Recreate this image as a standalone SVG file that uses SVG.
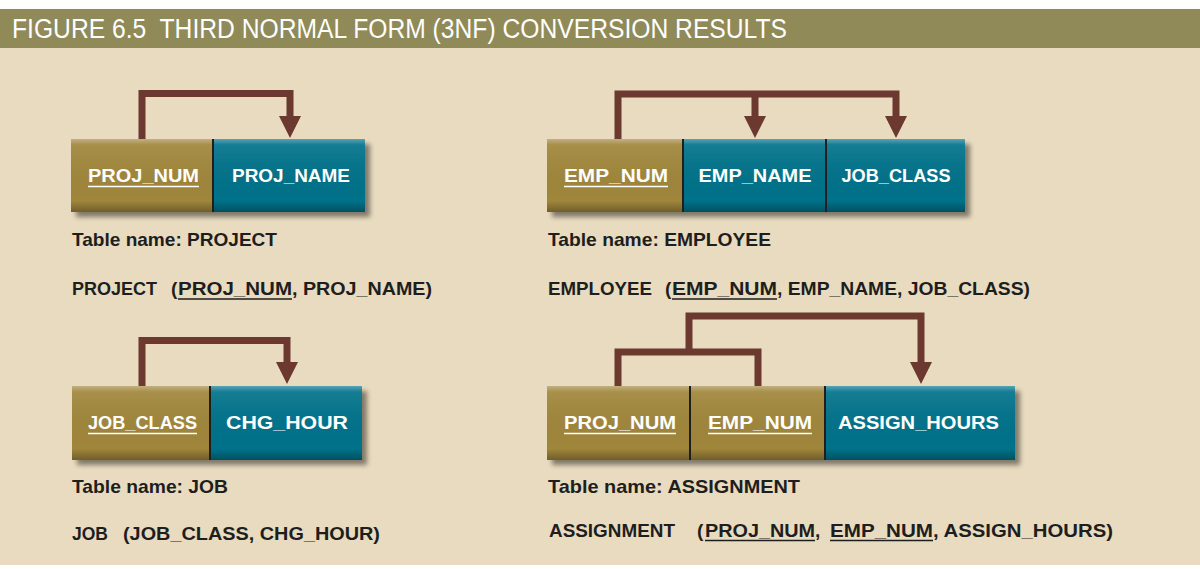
<svg xmlns="http://www.w3.org/2000/svg" width="1200" height="570" viewBox="0 0 1200 570">
<defs>
<style>
.hdr{font-family:"Liberation Sans",Arial,sans-serif;font-size:27px;fill:#ffffff;white-space:pre}
.cell{font-family:"Liberation Sans",Arial,sans-serif;font-size:18.5px;font-weight:bold;fill:#ffffff;text-anchor:middle}
.lbl{font-family:"Liberation Sans",Arial,sans-serif;font-size:19px;font-weight:bold;fill:#1e1e1e}
.key{fill:#a0863a}
.dep{fill:#00728a}
.sep{stroke:#1f1f1f;stroke-width:2}
.ul{stroke:#ffffff;stroke-width:1.5}
.ulb{stroke:#1e1e1e;stroke-width:1.5}
.conn{fill:none;stroke:#6b3930;stroke-width:7;stroke-linejoin:miter;stroke-linecap:butt}
</style>
<linearGradient id="bevel" x1="0" y1="0" x2="0" y2="1">
<stop offset="0" stop-color="#ffffff" stop-opacity="0.35"/>
<stop offset="0.08" stop-color="#ffffff" stop-opacity="0.08"/>
<stop offset="0.85" stop-color="#000000" stop-opacity="0"/>
<stop offset="1" stop-color="#000000" stop-opacity="0.3"/>
</linearGradient>
<filter id="shadow" x="-5%" y="-10%" width="115%" height="140%">
<feGaussianBlur in="SourceAlpha" stdDeviation="2.5"/>
<feOffset dx="5" dy="5" result="b"/>
<feComponentTransfer><feFuncA type="linear" slope="0.45"/></feComponentTransfer>
<feMerge><feMergeNode/><feMergeNode in="SourceGraphic"/></feMerge>
</filter>
<marker id="arrow" markerUnits="userSpaceOnUse" markerWidth="24" markerHeight="24" viewBox="0 -12 24 24" refX="0" refY="0" orient="auto">
<path d="M0,-11 L22,0 L0,11 Z" fill="#6b3930"/>
</marker>
</defs>

<rect x="0" y="0" width="1200" height="570" fill="#ffffff"/>
<rect x="0" y="48" width="1200" height="517" fill="#e8dbbf"/>
<rect x="0" y="9" width="1200" height="39" fill="#8f8a58"/>
<text class="hdr" x="12" y="38" textLength="775" lengthAdjust="spacingAndGlyphs" xml:space="preserve">FIGURE 6.5  THIRD NORMAL FORM (3NF) CONVERSION RESULTS</text>

<g id="connectors">
<path class="conn" d="M142,139 V93.5 H290 V116" marker-end="url(#arrow)"/>
<path class="conn" d="M618,139 V94 H896 V116" marker-end="url(#arrow)"/>
<path class="conn" d="M755,94 V116" marker-end="url(#arrow)"/>
<path class="conn" d="M142,386 V340.5 H287 V362" marker-end="url(#arrow)"/>
<path class="conn" d="M618,386 V352 H758 V386"/>
<path class="conn" d="M689,352 V316 H921 V362" marker-end="url(#arrow)"/>
</g>

<g id="project">
<g filter="url(#shadow)">
<rect class="key" x="71" y="139" width="142" height="73"/>
<rect class="dep" x="213" y="139" width="152" height="73"/>
</g>
<rect x="71" y="139" width="294" height="73" fill="url(#bevel)"/>
<line class="sep" x1="213" y1="139" x2="213" y2="212"/>
<text class="cell" x="143.5" y="182" textLength="111" lengthAdjust="spacingAndGlyphs">PROJ_NUM</text>
<line class="ul" x1="88" y1="186.5" x2="199" y2="186.5"/>
<text class="cell" x="291" y="182" textLength="118" lengthAdjust="spacingAndGlyphs">PROJ_NAME</text>
<text class="lbl" x="72" y="246" textLength="205" lengthAdjust="spacingAndGlyphs">Table name: PROJECT</text>
<text class="lbl" x="72" y="295" textLength="85" lengthAdjust="spacingAndGlyphs">PROJECT</text>
<text class="lbl" x="171" y="295">(</text>
<text class="lbl" x="178" y="295" textLength="114" lengthAdjust="spacingAndGlyphs">PROJ_NUM</text>
<text class="lbl" x="292" y="295" textLength="140" lengthAdjust="spacingAndGlyphs">, PROJ_NAME)</text>
<line class="ulb" x1="178" y1="299" x2="292" y2="299"/>
</g>

<g id="employee">
<g filter="url(#shadow)">
<rect class="key" x="547" y="139" width="136" height="73"/>
<rect class="dep" x="683" y="139" width="282" height="73"/>
</g>
<rect x="547" y="139" width="418" height="73" fill="url(#bevel)"/>
<line class="sep" x1="683" y1="139" x2="683" y2="212"/>
<line class="sep" x1="826" y1="139" x2="826" y2="212"/>
<text class="cell" x="616" y="182" textLength="104" lengthAdjust="spacingAndGlyphs">EMP_NUM</text>
<line class="ul" x1="564" y1="186.5" x2="668" y2="186.5"/>
<text class="cell" x="755" y="182" textLength="113" lengthAdjust="spacingAndGlyphs">EMP_NAME</text>
<text class="cell" x="896" y="182" textLength="109" lengthAdjust="spacingAndGlyphs">JOB_CLASS</text>
<text class="lbl" x="548" y="246" textLength="223" lengthAdjust="spacingAndGlyphs">Table name: EMPLOYEE</text>
<text class="lbl" x="548" y="295" textLength="104" lengthAdjust="spacingAndGlyphs">EMPLOYEE</text>
<text class="lbl" x="665" y="295">(</text>
<text class="lbl" x="672" y="295" textLength="105" lengthAdjust="spacingAndGlyphs">EMP_NUM</text>
<text class="lbl" x="777" y="295" textLength="253" lengthAdjust="spacingAndGlyphs">, EMP_NAME, JOB_CLASS)</text>
<line class="ulb" x1="672" y1="299" x2="777" y2="299"/>
</g>

<g id="job">
<g filter="url(#shadow)">
<rect class="key" x="72" y="386" width="138" height="74"/>
<rect class="dep" x="210" y="386" width="152" height="74"/>
</g>
<rect x="72" y="386" width="290" height="74" fill="url(#bevel)"/>
<line class="sep" x1="210" y1="386" x2="210" y2="460"/>
<text class="cell" x="142.5" y="429" textLength="109" lengthAdjust="spacingAndGlyphs">JOB_CLASS</text>
<line class="ul" x1="88" y1="433.5" x2="197" y2="433.5"/>
<text class="cell" x="287" y="429" textLength="122" lengthAdjust="spacingAndGlyphs">CHG_HOUR</text>
<text class="lbl" x="72" y="493" textLength="156" lengthAdjust="spacingAndGlyphs">Table name: JOB</text>
<text class="lbl" x="72" y="540" textLength="36" lengthAdjust="spacingAndGlyphs">JOB</text>
<text class="lbl" x="123" y="540" textLength="257" lengthAdjust="spacingAndGlyphs">(JOB_CLASS, CHG_HOUR)</text>
</g>

<g id="assignment">
<g filter="url(#shadow)">
<rect class="key" x="547" y="386" width="278" height="74"/>
<rect class="dep" x="825" y="386" width="190" height="74"/>
</g>
<rect x="547" y="386" width="468" height="74" fill="url(#bevel)"/>
<line class="sep" x1="690" y1="386" x2="690" y2="460"/>
<line class="sep" x1="825" y1="386" x2="825" y2="460"/>
<text class="cell" x="620" y="429" textLength="112" lengthAdjust="spacingAndGlyphs">PROJ_NUM</text>
<line class="ul" x1="564" y1="433.5" x2="676" y2="433.5"/>
<text class="cell" x="760" y="429" textLength="104" lengthAdjust="spacingAndGlyphs">EMP_NUM</text>
<line class="ul" x1="708" y1="433.5" x2="812" y2="433.5"/>
<text class="cell" x="918.5" y="429" textLength="161" lengthAdjust="spacingAndGlyphs">ASSIGN_HOURS</text>
<text class="lbl" x="548" y="493" textLength="252" lengthAdjust="spacingAndGlyphs">Table name: ASSIGNMENT</text>
<text class="lbl" x="549" y="537" textLength="126" lengthAdjust="spacingAndGlyphs">ASSIGNMENT</text>
<text class="lbl" x="697" y="537">(</text>
<text class="lbl" x="705" y="537" textLength="110" lengthAdjust="spacingAndGlyphs">PROJ_NUM</text>
<text class="lbl" x="815" y="537">,</text>
<text class="lbl" x="830" y="537" textLength="103" lengthAdjust="spacingAndGlyphs">EMP_NUM</text>
<text class="lbl" x="933" y="537" textLength="180" lengthAdjust="spacingAndGlyphs">, ASSIGN_HOURS)</text>
<line class="ulb" x1="705" y1="540.5" x2="815" y2="540.5"/>
<line class="ulb" x1="830" y1="540.5" x2="933" y2="540.5"/>
</g>
</svg>
